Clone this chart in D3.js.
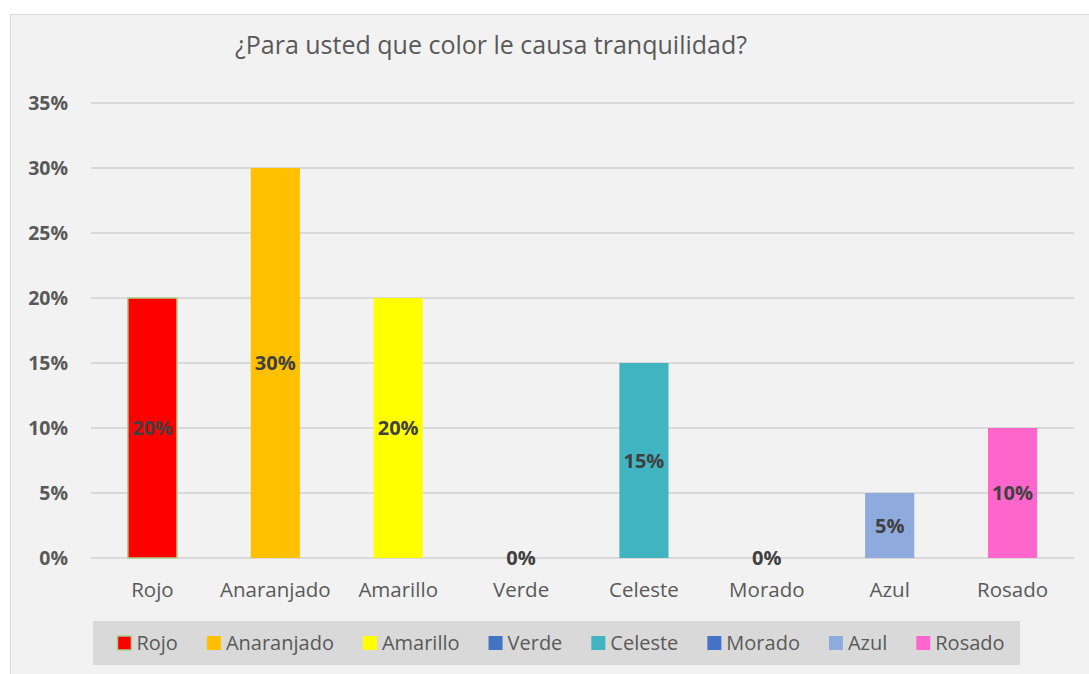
<!DOCTYPE html>
<meta charset="utf-8">
<style>
body { margin: 0; background: #fff; }
text { font-family: "Open Sans", sans-serif; }
</style>
<body>
<script src="https://d3js.org/d3.v7.min.js"></script>
<script>
// data
var categories = ["Rojo", "Anaranjado", "Amarillo", "Verde", "Celeste", "Morado", "Azul", "Rosado"];
var values = [0.20, 0.30, 0.20, 0, 0.15, 0, 0.05, 0.10];
var colors = ["#ff0000", "#ffc000", "#ffff00", "#4472c4", "#40b4c0", "#4472c4", "#8faadc", "#ff66cc"];
var yTicks = [0, 0.05, 0.10, 0.15, 0.20, 0.25, 0.30, 0.35];
var title = "¿Para usted que color le causa tranquilidad?";

var W = 1089, H = 674;
var margin = {top: 103, right: 15, bottom: 116, left: 91};
var width = W - margin.left - margin.right,
    height = H - margin.top - margin.bottom;

var svg = d3.select("body").append("svg")
    .attr("width", W)
    .attr("height", H);

// chart background
svg.append("rect")
    .attr("x", 10.5).attr("y", 14.5)
    .attr("width", W).attr("height", H)
    .attr("fill", "#f2f2f2")
    .attr("stroke", "#d9d9d9");

svg.append("text")
    .attr("x", 491).attr("y", 54)
    .attr("text-anchor", "middle")
    .attr("font-size", 25)
    .attr("fill", "#595959")
    .text(title);

var g = svg.append("g")
    .attr("transform", "translate(" + margin.left + "," + margin.top + ")");

var x = d3.scaleBand()
    .domain(categories)
    .range([0, width])
    .paddingInner(0.6)
    .paddingOuter(0.3);

var y = d3.scaleLinear()
    .domain([0, 0.35])
    .range([height, 0]);

// gridlines
g.selectAll(".grid")
    .data(yTicks)
    .enter().append("line")
    .attr("x1", 0).attr("x2", width)
    .attr("y1", function(d) { return y(d); })
    .attr("y2", function(d) { return y(d); })
    .attr("stroke", "#d9d9d9")
    .attr("stroke-width", 2);

// y axis
var yAxis = g.append("g")
    .call(d3.axisLeft(y).tickValues(yTicks).tickFormat(d3.format(".0%")).tickSize(0).tickPadding(23));
yAxis.select(".domain").remove();
yAxis.selectAll("text")
    .attr("font-family", "Open Sans, sans-serif")
    .attr("font-size", 19.5)
    .attr("font-weight", "bold")
    .attr("fill", "#595959");

// x axis
var xAxis = g.append("g")
    .attr("transform", "translate(0," + height + ")")
    .call(d3.axisBottom(x).tickSize(0).tickPadding(24));
xAxis.select(".domain").remove();
xAxis.selectAll("text")
    .attr("font-family", "Open Sans, sans-serif")
    .attr("font-size", 20.5)
    .attr("fill", "#595959");

// bars
g.selectAll(".bar")
    .data(values)
    .enter().append("rect")
    .attr("x", function(d, i) { return x(categories[i]); })
    .attr("width", x.bandwidth())
    .attr("y", function(d) { return y(d); })
    .attr("height", function(d) { return height - y(d); })
    .attr("fill", function(d, i) { return colors[i]; })
    .attr("stroke", function(d, i) { return i === 0 ? "#a9d18e" : "none"; })
    .attr("stroke-width", 1.5);

// data labels
g.selectAll(".lbl")
    .data(values)
    .enter().append("text")
    .attr("x", function(d, i) { return x(categories[i]) + x.bandwidth() / 2; })
    .attr("y", function(d) { return (y(d) + height) / 2; })
    .attr("dy", "0.35em")
    .attr("text-anchor", "middle")
    .attr("font-size", 20)
    .attr("font-weight", "bold")
    .attr("fill", "#404040")
    .text(function(d) { return d3.format(".0%")(d); });

// legend
svg.append("rect")
    .attr("x", 93).attr("y", 621)
    .attr("width", 927).attr("height", 44)
    .attr("fill", "#d9d9d9");

var gap = 29;
var leg = svg.append("g");
var lx = 0;
categories.forEach(function(c, i) {
    var item = leg.append("g").attr("transform", "translate(" + lx + ",0)");
    item.append("rect")
        .attr("x", 0).attr("y", -7)
        .attr("width", 14).attr("height", 14)
        .attr("fill", colors[i])
        .attr("stroke", i === 0 ? "#a9d18e" : "none")
        .attr("stroke-width", 1.5);
    var t = item.append("text")
        .attr("x", 19).attr("y", 0)
        .attr("dy", "0.35em")
        .attr("font-size", 20)
        .attr("fill", "#595959")
        .text(c);
    lx += 19 + t.node().getComputedTextLength() + gap;
});
var legW = lx - gap;
leg.attr("transform", "translate(" + (119 + (884 - legW) / 2) + ",643)");
</script>
</body>
